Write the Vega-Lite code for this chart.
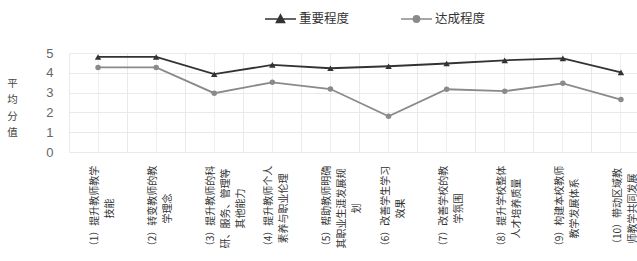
{
  "$schema": "https://vega.github.io/schema/vega-lite/v6.json",
  "autosize": "none",
  "width": 568,
  "height": 99,
  "padding": {"left": 69, "top": 53, "right": 0, "bottom": 109},
  "background": "#ffffff",
  "config": {"view": {"stroke": null}, "font": "Noto Sans CJK SC"},
  "data": {"values": [
    {"item": "（1）提升教师教学|技能", "series": "重要程度", "value": 4.8},
    {"item": "（2）转变教师的教|学理念", "series": "重要程度", "value": 4.8},
    {"item": "（3）提升教师的科|研、服务、管理等|其他能力", "series": "重要程度", "value": 3.93},
    {"item": "（4）提升教师个人|素养与职业伦理", "series": "重要程度", "value": 4.4},
    {"item": "（5）帮助教师明确|其职业生涯发展规|划", "series": "重要程度", "value": 4.23},
    {"item": "（6）改善学生学习|效果", "series": "重要程度", "value": 4.33},
    {"item": "（7）改善学校的教|学氛围", "series": "重要程度", "value": 4.47},
    {"item": "（8）提升学校整体|人才培养质量", "series": "重要程度", "value": 4.63},
    {"item": "（9）构建本校教师|教学发展体系", "series": "重要程度", "value": 4.73},
    {"item": "（10）带动区域教|师教学共同发展", "series": "重要程度", "value": 4.02},
    {"item": "（1）提升教师教学|技能", "series": "达成程度", "value": 4.27},
    {"item": "（2）转变教师的教|学理念", "series": "达成程度", "value": 4.27},
    {"item": "（3）提升教师的科|研、服务、管理等|其他能力", "series": "达成程度", "value": 2.97},
    {"item": "（4）提升教师个人|素养与职业伦理", "series": "达成程度", "value": 3.52},
    {"item": "（5）帮助教师明确|其职业生涯发展规|划", "series": "达成程度", "value": 3.18},
    {"item": "（6）改善学生学习|效果", "series": "达成程度", "value": 1.8},
    {"item": "（7）改善学校的教|学氛围", "series": "达成程度", "value": 3.17},
    {"item": "（8）提升学校整体|人才培养质量", "series": "达成程度", "value": 3.07},
    {"item": "（9）构建本校教师|教学发展体系", "series": "达成程度", "value": 3.47},
    {"item": "（10）带动区域教|师教学共同发展", "series": "达成程度", "value": 2.65}
  ]},
  "encoding": {
    "y": {
      "field": "value", "type": "quantitative",
      "scale": {"domain": [0, 5], "nice": false},
      "axis": {
        "values": [0, 1, 2, 3, 4, 5], "domain": false, "ticks": false, "tickSize": 0,
        "grid": true, "gridColor": "#e9e9e9", "gridWidth": 1,
        "labelOverlap": false,
        "labelFont": "Liberation Sans", "labelFontSize": 13, "labelColor": "#666666", "labelPadding": 16,
        "title": ["平", "均", "分", "值"], "titleAngle": 0, "titleFontSize": 10.5,
        "titleFontWeight": "normal", "titleColor": "#444444", "titleLineHeight": 16.5,
        "titleX": -57, "titleY": 30, "titleAlign": "center", "titleBaseline": "middle"
      }
    }
  },
  "layer": [
    {
      "mark": {"type": "line", "strokeWidth": 1.8},
      "encoding": {
        "x": {
          "field": "item", "type": "nominal", "sort": null,
          "scale": {"type": "band", "paddingInner": 0, "paddingOuter": 0, "range": [0, 581]},
          "axis": {
            "title": null, "orient": "bottom", "domain": false, "ticks": false, "tickSize": 0,
            "grid": true, "gridColor": "#eeeeee", "gridWidth": 1,
            "labelAngle": -90, "labelAlign": "center", "labelBaseline": "middle",
            "labelPadding": 56, "labelFontSize": 10, "labelLineHeight": 15, "labelOffset": -3,
            "labelColor": "#333333", "labelLimit": 0, "labelOverlap": false,
            "labelExpr": "split(datum.label, '|')"
          }
        },
        "color": {
          "field": "series", "type": "nominal",
          "scale": {"domain": ["重要程度", "达成程度"], "range": ["#333333", "#8a8a8a"]},
          "legend": {
            "title": null, "orient": "none", "legendX": 195, "legendY": -51, "direction": "horizontal",
            "padding": 0, "columnPadding": 47, "labelOffset": 2, "labelFontSize": 12.5, "labelColor": "#333333",
            "symbolSize": 961,
            "encode": {"symbols": {"update": {
              "shape": {"signal": "datum.value === '重要程度' ? 'M-1,0H1M-0.26,0.22L0,-0.26L0.26,0.22Z' : 'M-1,0H1M0.2,0A0.2,0.2 0 1,1 -0.2,0A0.2,0.2 0 1,1 0.2,0Z'"},
              "fill": {"signal": "datum.value === '重要程度' ? '#333333' : '#8a8a8a'"},
              "stroke": {"signal": "datum.value === '重要程度' ? '#333333' : '#8a8a8a'"},
              "strokeWidth": {"value": 1.6},
              "opacity": {"value": 1}
            }}}
          }
        }
      }
    },
    {
      "transform": [{"filter": "datum.series === '重要程度'"}],
      "mark": {"type": "point", "filled": true, "size": 42, "opacity": 1, "shape": "triangle-up"},
      "encoding": {
        "x": {
          "field": "item", "type": "nominal", "sort": null,
          "axis": {
            "orient": "top", "title": null, "labels": false, "ticks": false, "domain": false,
            "grid": true, "bandPosition": 0, "gridColor": "#e9e9e9", "gridWidth": 1
          }
        },
        "color": {"field": "series", "type": "nominal"}
      }
    },
    {
      "transform": [{"filter": "datum.series === '达成程度'"}],
      "mark": {"type": "point", "filled": true, "size": 30, "opacity": 1, "shape": "circle"},
      "encoding": {
        "x": {"field": "item", "type": "nominal", "sort": null, "axis": null},
        "color": {"field": "series", "type": "nominal"}
      }
    }
  ],
  "resolve": {"axis": {"x": "independent"}}
}
